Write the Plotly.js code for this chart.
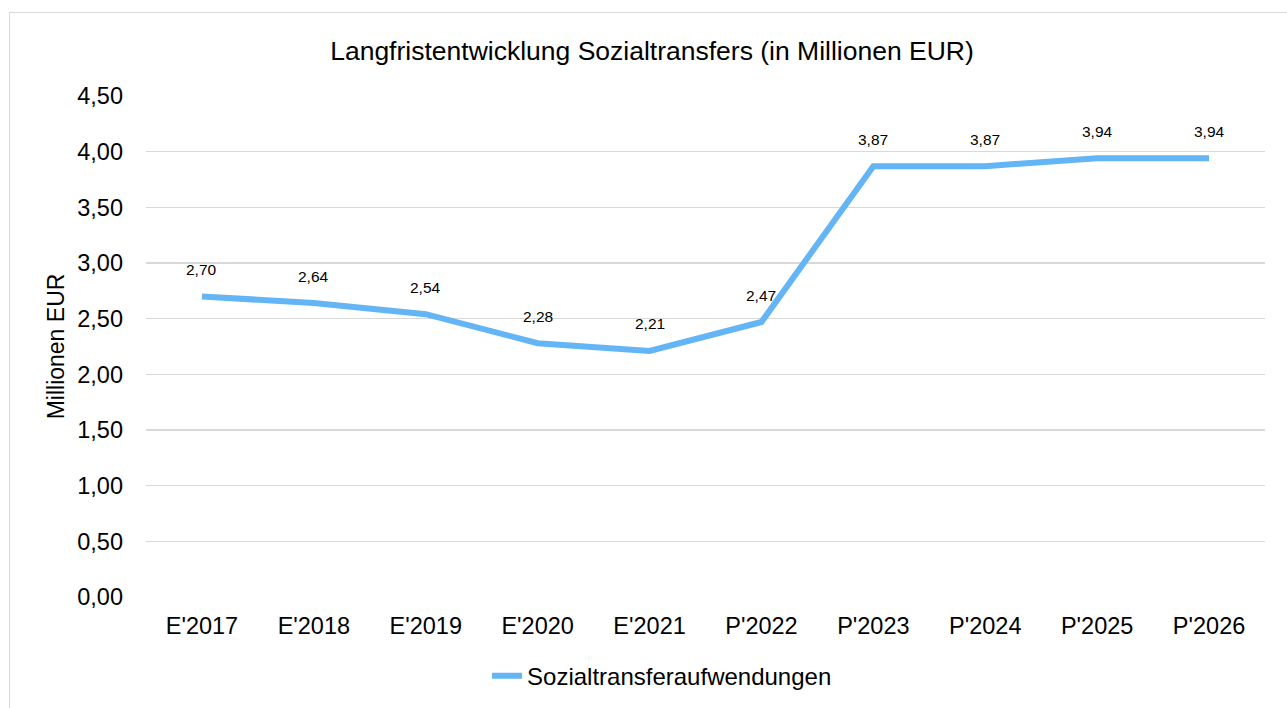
<!DOCTYPE html>
<html>
<head>
<meta charset="utf-8">
<script src="https://cdn.plot.ly/plotly-3.0.1.min.js"></script>
<style>
html,body{margin:0;padding:0;background:#fff;}
#wrap{position:relative;width:1287px;height:708px;}
#chart{position:absolute;left:0;top:0;width:1287px;height:708px;}
#frame{position:absolute;left:9px;top:12px;width:1300px;height:720px;border-left:1px solid #D9D9D9;border-top:1px solid #D9D9D9;pointer-events:none;}
</style>
</head>
<body>
<div id="wrap"><div id="chart"></div><div id="frame"></div></div>
<script>
const categories = ["E'2017","E'2018","E'2019","E'2020","E'2021","P'2022","P'2023","P'2024","P'2025","P'2026"];
const values = [2.70, 2.64, 2.54, 2.28, 2.21, 2.47, 3.87, 3.87, 3.94, 3.94];
const yTickVals = [0, 0.5, 1, 1.5, 2, 2.5, 3, 3.5, 4, 4.5];
const yTickText = ["0,00","0,50","1,00","1,50","2,00","2,50","3,00","3,50","4,00","4,50"];
const seriesName = "Sozialtransferaufwendungen";
const chartTitle = "Langfristentwicklung Sozialtransfers (in Millionen EUR)";
const yTitle = "Millionen EUR";

const fmt = v => v.toFixed(2).replace('.', ',');
const FONT = "Liberation Sans, Arial, sans-serif";
const COLOR = "#63B5F6";

const trace = {
  type: 'scatter', mode: 'lines',
  x: categories, y: values, name: seriesName,
  line: {color: COLOR, width: 6},
  hoverinfo: 'skip'
};

const annotations = categories.map((c, i) => ({
  x: c, y: values[i], xref: 'x', yref: 'y',
  text: fmt(values[i]), showarrow: false, yshift: 27,
  font: {family: FONT, size: 15.5, color: '#000'}
}));

const layout = {
  width: 1287, height: 708,
  paper_bgcolor: '#fff', plot_bgcolor: '#fff',
  margin: {l: 146, r: 22, t: 96, b: 111},
  font: {family: FONT, color: '#000'},
  title: {text: chartTitle, font: {family: FONT, size: 26.5, color: '#000'},
          xref: 'container', x: 0.5066, xanchor: 'center', yref: 'container', y: 0.929, yanchor: 'middle'},
  xaxis: {type: 'category', showgrid: false, zeroline: false, showline: false, ticks: '',
          ticklabelstandoff: 12,
          tickfont: {family: FONT, size: 23.5, color: '#000'}, range: [-0.5, 9.5], fixedrange: true},
  yaxis: {range: [0, 4.5], tickvals: yTickVals, ticktext: yTickText, showgrid: true,
          gridcolor: '#D9D9D9', gridwidth: 1.5, zeroline: false, showline: false, ticks: '',
          ticklabelstandoff: 22,
          tickfont: {family: FONT, size: 23.5, color: '#000'},
          title: {text: yTitle, font: {family: FONT, size: 23, color: '#000'}, standoff: 6},
          automargin: false, fixedrange: true},
  showlegend: true,
  legend: {orientation: 'h', x: 0.5144, xref: 'container', xanchor: 'center', y: 0.045, yref: 'container', yanchor: 'middle',
           font: {family: FONT, size: 24, color: '#000'}, bgcolor: 'rgba(0,0,0,0)'},
  annotations: annotations
};

Plotly.newPlot('chart', [trace], layout, {displayModeBar: false, staticPlot: true});
</script>
</body>
</html>
